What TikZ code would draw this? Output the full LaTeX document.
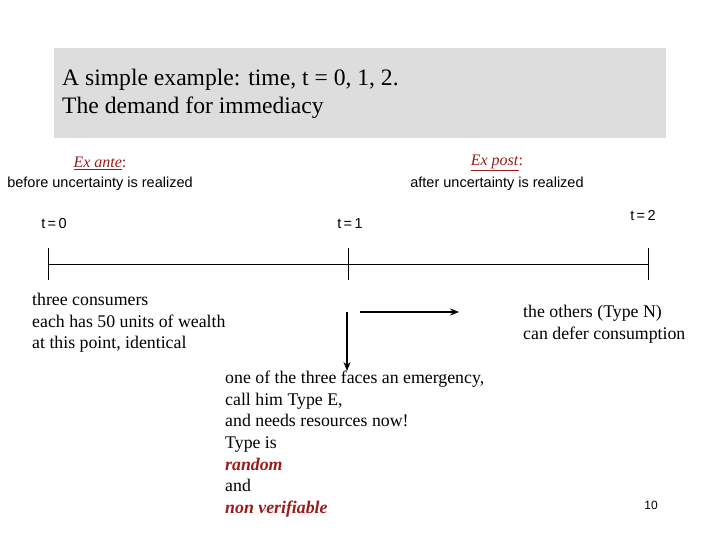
\documentclass[tikz,border=0pt]{standalone}
\usepackage{fontspec}
\setmainfont{Liberation Serif}
\newfontfamily\arial{Liberation Sans}
\usetikzlibrary{arrows.meta}
\definecolor{dred}{HTML}{9B1B1B}
\begin{document}
\begin{tikzpicture}[x=1pt,y=-1pt,
  ser/.style={font=\fontsize{17.8}{21.6}\selectfont,align=left,inner sep=0},
  lab/.style={font=\arial\fontsize{14.5}{15}\selectfont,inner sep=0},
  arr/.style={-{Stealth[length=9pt,width=7pt]},line width=1.3pt}]
\useasboundingbox (0,0) rectangle (720,540);
\fill[fill={rgb,255:red,221;green,221;blue,221}] (54,48) rectangle (666,138);
\node[anchor=west,font=\fontsize{23.6}{28}\selectfont,align=left,inner sep=0] (title) at (62,94) {A simple example: time, t = 0, 1, 2.\\The demand for immediacy};
\node[lab,text=dred,font=\fontsize{16}{18}\selectfont] (ea) at (100,163) {\underline{\textit{Ex ante}}:};
\node[lab] (eat) at (100,184) {before uncertainty is realized};
\node[lab,text=dred,font=\fontsize{16}{18}\selectfont] (ep) at (497,163) {\underline{\textit{Ex post}}:};
\node[lab] (ept) at (497,184) {after uncertainty is realized};
\node[lab] (t0) at (54,224) {t\,=\,0};
\node[lab] (t1) at (350,224) {t\,=\,1};
\node[lab] (t2) at (643,215) {t\,=\,2};
\draw[line width=0.6pt] (48,264) coordinate (la) -- (648,264) coordinate (lb);
\foreach \x in {48,348,648} \draw[line width=0.6pt] (\x,248) -- (\x,280);
\node[ser,anchor=west] (left) at (32,323) {three consumers\\each has 50 units of wealth\\at this point, identical};
\node[ser,anchor=west] (right) at (523,324) {the others (Type N)\\can defer consumption};
\coordinate (h1) at (360,312); \coordinate (h2) at (459,312);
\draw[arr] (h1) -- (h2);
\coordinate (v1) at (347,312); \coordinate (v2) at (347,371);
\draw[arr] (v1) -- (v2);
\node[ser,anchor=north west] (bot) at (225,371) {one of the three faces an emergency,\\call him Type E,\\and needs resources now!\\Type is\\{\color{dred}\textbf{\textit{random}}}\\and\\{\color{dred}\textbf{\textit{non verifiable}}}};
\node[lab,font=\arial\fontsize{12}{13}\selectfont] (pg) at (651,505) {10};
\end{tikzpicture}
\end{document}
